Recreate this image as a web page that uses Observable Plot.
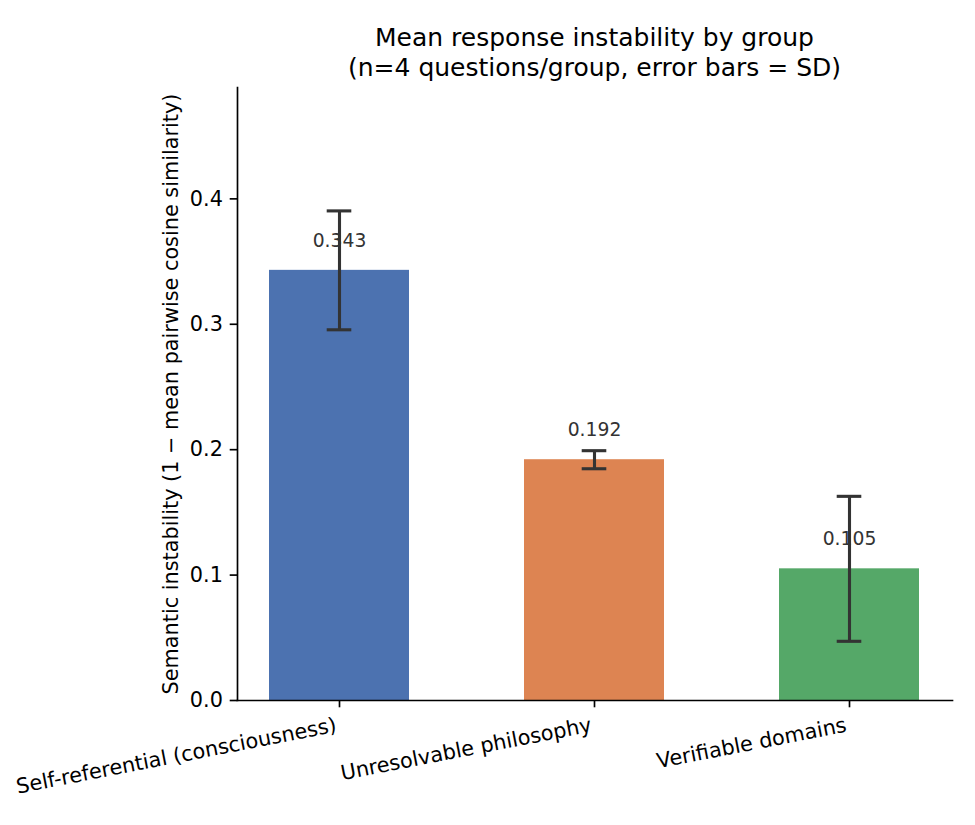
<!DOCTYPE html>
<html>
<head>
<meta charset="utf-8">
<script src="https://cdn.jsdelivr.net/npm/d3@7"></script>
<script src="https://cdn.jsdelivr.net/npm/@observablehq/plot@0.6"></script>
<style>
  body { margin: 0; background: #fff; font-family: "DejaVu Sans", sans-serif; }
  #title { position: relative; height: 80px; box-sizing: border-box; padding-top: 23px; margin-left: 237px; width: 715px; text-align: center; font-size: 25px; line-height: 30px; color: #000; white-space: nowrap; }
  svg { display: block; }
</style>
</head>
<body>
<div id="title">Mean response instability by group<br>(n=4 questions/group, error bars = SD)</div>
<div id="chart"></div>
<script>
const groups = ["Self-referential (consciousness)", "Unresolvable philosophy", "Verifiable domains"];
const means = [0.343, 0.192, 0.105];
const sds = [0.0474, 0.0072, 0.0578];
const colors = ["#4c72b0", "#dd8452", "#55a868"];
const yTicks = [0.0, 0.1, 0.2, 0.3, 0.4];
const yLabel = "Semantic instability (1 \u2212 mean pairwise cosine similarity)";

const data = groups.map((g, i) => ({group: g, mean: means[i], sd: sds[i], color: colors[i], label: means[i].toFixed(3)}));

const W = 975, H = 745;
const mL = 237, mR = 23, mT = 7, mB = 125;
const paddingInner = 0.45, paddingOuter = 0.1255;
const step = (W - mL - mR) / (groups.length - paddingInner + 2 * paddingOuter);
const bw = step * (1 - paddingInner);
const capHalf = 12.5;
const capInset = bw / 2 - capHalf;

const chart = Plot.plot({
  width: W,
  height: H,
  marginLeft: mL,
  marginRight: mR,
  marginTop: mT,
  marginBottom: mB,
  style: {fontFamily: "DejaVu Sans, sans-serif", fontSize: "20.8px", color: "#000", background: "#fff"},
  x: {type: "band", domain: groups, paddingInner, paddingOuter, align: 0.5},
  y: {domain: [0, 0.4888]},
  marks: [
    Plot.barY(data, {x: "group", y: "mean", fill: "color"}),
    Plot.text(data, {x: "group", y: "mean", text: "label", dy: -23.5, lineAnchor: "bottom", fill: "#333333", fontSize: 18.75}),
    Plot.ruleX(data, {x: "group", y1: d => d.mean - d.sd, y2: d => d.mean + d.sd, stroke: "#333333", strokeWidth: 3.1}),
    Plot.tickY(data, {x: "group", y: d => d.mean + d.sd, stroke: "#333333", strokeWidth: 3.1, insetLeft: capInset, insetRight: capInset}),
    Plot.tickY(data, {x: "group", y: d => d.mean - d.sd, stroke: "#333333", strokeWidth: 3.1, insetLeft: capInset, insetRight: capInset}),
    Plot.frame({anchor: "left", stroke: "#000", strokeWidth: 1.67}),
    Plot.frame({anchor: "bottom", stroke: "#000", strokeWidth: 1.67}),
    Plot.axisY({ticks: yTicks, tickFormat: d3.format(".1f"), tickSize: 7.3, tickPadding: 7.3, label: null, strokeWidth: 1.67, fill: "#000"}),
    Plot.axisX({tickSize: 7.3, tickFormat: () => "", label: null, strokeWidth: 1.67}),
    Plot.text(groups, {x: d => d, frameAnchor: "bottom", dy: 31, dx: -2, rotate: -11, textAnchor: "end", lineAnchor: "bottom", fontSize: 20.8, fill: "#000"}),
    Plot.text([yLabel], {frameAnchor: "left", rotate: -90, dx: -66, fontSize: 20.8, fill: "#000", textAnchor: "middle", lineAnchor: "middle"})
  ]
});
document.getElementById("chart").appendChild(chart);
</script>
</body>
</html>
